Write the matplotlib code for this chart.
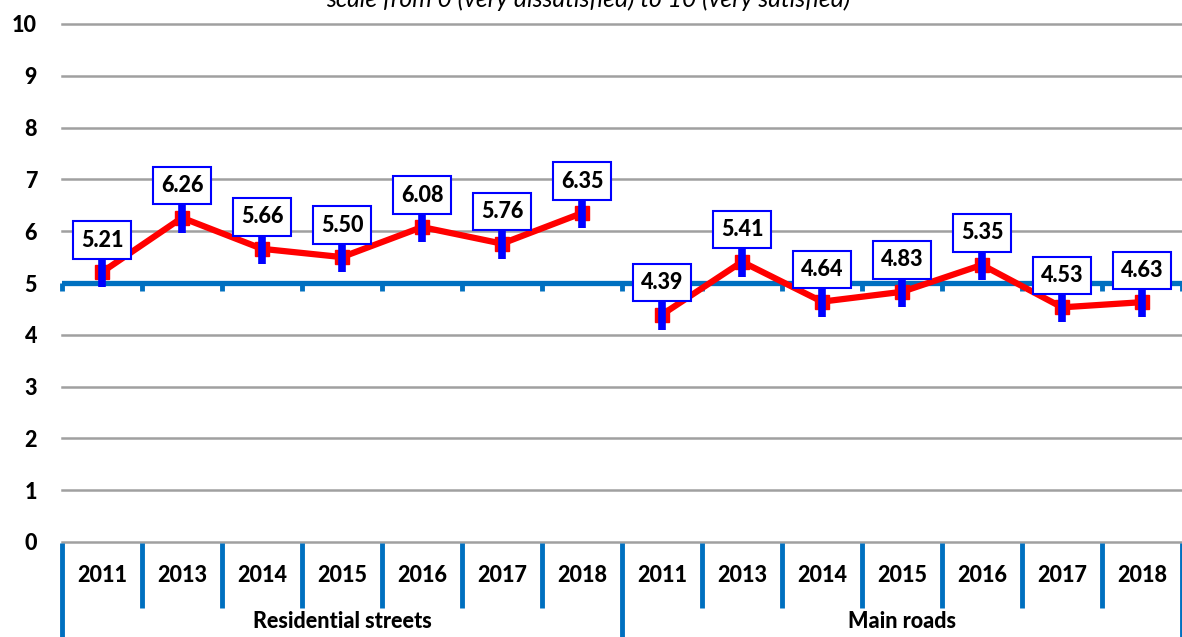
import matplotlib
matplotlib.use("Agg")
import matplotlib.pyplot as plt
import numpy as np

groups = ["Residential streets", "Main roads"]
years = ["2011", "2013", "2014", "2015", "2016", "2017", "2018"]
residential = [5.21, 6.26, 5.66, 5.50, 6.08, 5.76, 6.35]
main_roads = [4.39, 5.41, 4.64, 4.83, 5.35, 4.53, 4.63]
subtitle = "scale from 0 (very dissatisfied) to 10 (very satisfied)"

W, H = 1182, 637
fig = plt.figure(figsize=(W / 100, H / 100), dpi=100)
left, right, top, bottom = 62, 1182, 24, 542
ax = fig.add_axes([left / W, 1 - bottom / H, (right - left) / W, (bottom - top) / H])

plt.rcParams['font.family'] = ['Lato', 'DejaVu Sans']
FONT = ['Lato', 'DejaVu Sans']
FS = 15.5

n = len(years)
ncat = 2 * n
ax.set_xlim(0, ncat)
ax.set_ylim(0, 10)
for s in ax.spines.values():
    s.set_visible(False)
ax.set_xticks([])
ax.set_yticks(range(0, 11))
ax.set_yticklabels([str(i) for i in range(0, 11)], fontsize=FS, fontweight='black', family=FONT)
ax.tick_params(axis='y', length=0, pad=18)
for yv in range(0, 11):
    if yv != 5:
        ax.axhline(yv, color='#A0A0A0', lw=1.8, zorder=1, clip_on=False)

# axis crossing at 5
ax.axhline(5, color='#0070C0', lw=3.8, zorder=2)
px = 10 / (bottom - top)
for i in range(ncat + 1):
    ax.plot([i, i], [5, 5 - 8 * px], color='#0070C0', lw=3.5, zorder=2,
            solid_capstyle='butt', clip_on=False)

series = [residential, main_roads]
for g, vals in enumerate(series):
    xs = np.arange(n) + g * n + 0.5
    ax.plot(xs, vals, color='#FF0000', lw=4.5, zorder=3, solid_capstyle='butt')
    ax.plot(xs, vals, linestyle='none', marker='s', markersize=10,
            markerfacecolor='#FF0000', markeredgecolor='#FF0000', zorder=4)
    ax.plot(xs, vals, linestyle='none', marker='|', markersize=22,
            markeredgewidth=5.5, markeredgecolor='#0000FF', zorder=5)
    for x, v in zip(xs, vals):
        ax.annotate(f"{v:.2f}", (x, v), xytext=(0, 23), textcoords='offset points',
                    ha='center', va='center', fontsize=FS, fontweight='black',
                    family=FONT, zorder=6,
                    bbox=dict(boxstyle='square,pad=0.38', fc='white',
                              ec='#0000FF', lw=1.5))

# category axis labels
trans = ax.get_xaxis_transform()
def ay(pix):
    return (bottom - pix) / (bottom - top)

for g, grp in enumerate(groups):
    for i, yr in enumerate(years):
        ax.text(g * n + i + 0.5, ay(575), yr, transform=trans, ha='center', va='center',
                fontsize=FS, fontweight='black', family=FONT)
    ax.text(g * n + n / 2, ay(622), grp, transform=trans, ha='center', va='center',
            fontsize=FS, fontweight='black', family=FONT)

for i in range(ncat + 1):
    if i % n == 0:
        y2 = ay(H + 5)
    else:
        y2 = ay(608)
    ax.plot([i, i], [ay(543), y2], transform=trans, color='#0070C0', lw=3.5,
            solid_capstyle='butt', clip_on=False)

fig.text(588 / W, 1 - 7 / H, subtitle, ha='center', va='baseline', fontsize=17.8,
         style='italic', family=FONT)

fig.savefig("out.png", dpi=100)
